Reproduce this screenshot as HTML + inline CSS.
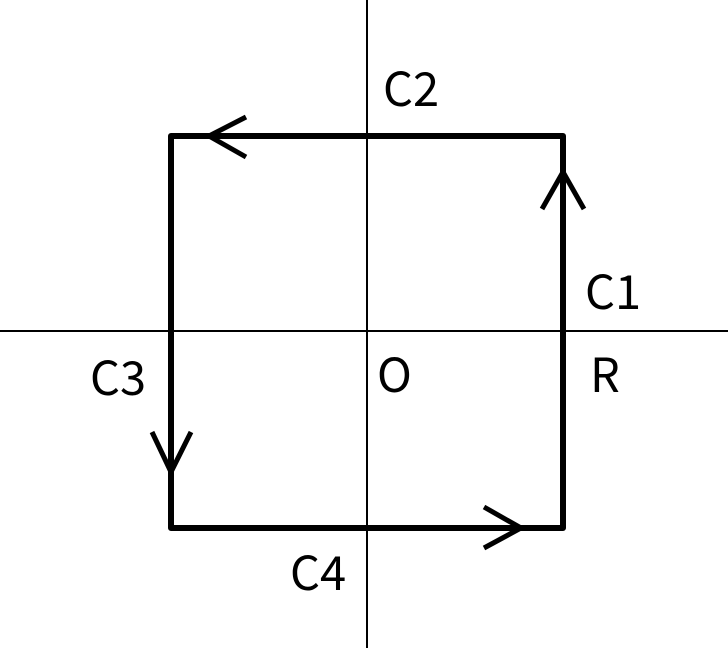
<!DOCTYPE html>
<html><head><meta charset="utf-8"><style>
html,body{margin:0;padding:0;background:#fff;}
svg{display:block}
text{font-family:"Noto Sans CJK JP","Liberation Sans",sans-serif;font-size:47px;fill:#000}
</style></head><body>
<svg width="728" height="648" viewBox="0 0 728 648" xmlns="http://www.w3.org/2000/svg">
<line x1="367" y1="0" x2="367" y2="648" stroke="#000" stroke-width="2"/>
<line x1="0" y1="331" x2="728" y2="331" stroke="#000" stroke-width="2"/>
<rect x="171" y="136" width="392" height="392" fill="none" stroke="#000" stroke-width="6" stroke-linejoin="round"/>
<g fill="none" stroke="#000" stroke-width="5">
<polyline points="246,117 209,136 246,157"/>
<polyline points="542,209 563,172 584,209"/>
<polyline points="152,432 171,472 191,432"/>
<polyline points="484,507 521,528 484,548"/>
</g>
<text x="383" y="106">C2</text>
<text x="585" y="309">C1</text>
<text x="90" y="395">C3</text>
<text x="377" y="392">O</text>
<text x="590" y="392">R</text>
<text x="290" y="590">C4</text>
</svg>
</body></html>
